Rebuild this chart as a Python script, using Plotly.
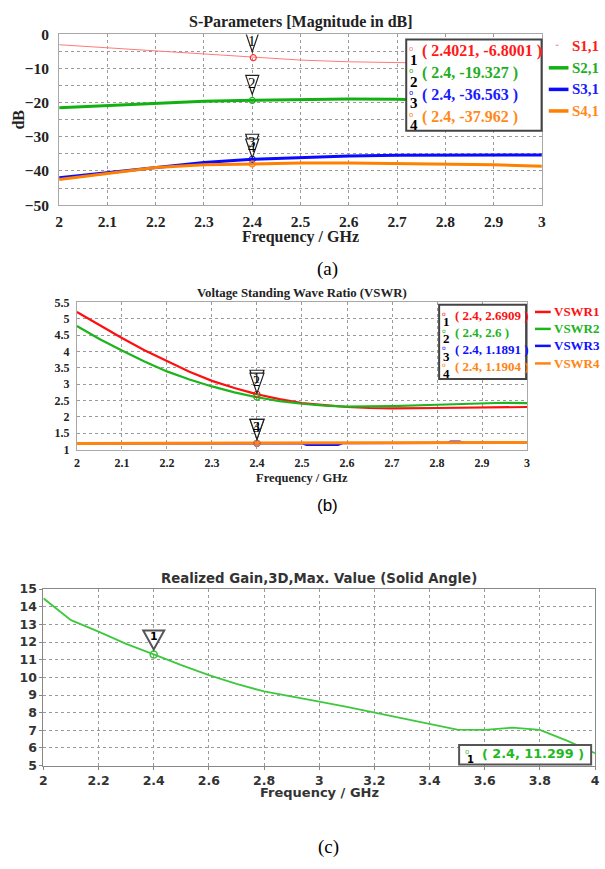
import plotly.graph_objects as go

W, H = 605, 869

# ---------------- (a) S-parameters ----------------
freq_a = [2.0, 2.1, 2.2, 2.3, 2.4, 2.5, 2.6, 2.7, 2.8, 2.9, 3.0]
s11 = [-3.0, -3.9, -4.8, -5.8, -6.8, -7.5, -8.0, -8.3, -8.5, -8.7, -8.8]
s21 = [-21.5, -20.8, -20.1, -19.6, -19.3, -19.0, -18.9, -19.0, -19.3, -19.8, -20.5]
s31 = [-42.0, -40.5, -38.9, -37.5, -36.6, -36.0, -35.6, -35.4, -35.3, -35.3, -35.3]
s41 = [-42.5, -40.8, -39.0, -38.2, -37.96, -37.7, -37.7, -37.8, -37.9, -38.2, -38.6]
names_a = ["S1,1", "S2,1", "S3,1", "S4,1"]
mk_a_x = [2.4021, 2.4, 2.4, 2.4]
mk_a_y = [-6.8001, -19.327, -36.563, -37.962]
ticks_a_y = [0, -10, -20, -30, -40, -50]

# ---------------- (b) VSWR ----------------
freq_b = [2.0, 2.05, 2.1, 2.15, 2.2, 2.25, 2.3, 2.35, 2.4, 2.45, 2.5, 2.55, 2.6,
          2.65, 2.7, 2.8, 2.9, 2.95, 3.0]
vswr1 = [5.21, 4.80, 4.41, 4.04, 3.70, 3.38, 3.10, 2.88, 2.69, 2.54, 2.42, 2.35, 2.30,
         2.27, 2.26, 2.27, 2.28, 2.29, 2.30]
vswr2 = [4.78, 4.38, 4.03, 3.69, 3.39, 3.14, 2.93, 2.75, 2.60, 2.48, 2.40, 2.34, 2.31,
         2.31, 2.33, 2.37, 2.41, 2.43, 2.42]
freq_b3 = [2.0, 2.2, 2.4, 2.5, 2.51, 2.58, 2.59, 2.7, 2.82, 2.83, 2.85, 2.86, 3.0]
vswr3 = [1.185, 1.187, 1.189, 1.19, 1.14, 1.14, 1.192, 1.197, 1.20, 1.245, 1.245, 1.205, 1.212]
freq_b4 = [2.0, 2.4, 2.6, 2.8, 3.0]
vswr4 = [1.185, 1.1904, 1.197, 1.205, 1.215]
names_b = ["VSWR1", "VSWR2", "VSWR3", "VSWR4"]
mk_b_x = [2.4, 2.4, 2.4, 2.4]
mk_b_y = [2.6909, 2.6, 1.1891, 1.1904]

# ---------------- (c) Realized gain ----------------
freq_c = [2.0, 2.1, 2.2, 2.3, 2.4, 2.5, 2.6, 2.7, 2.8, 2.9, 3.0,
          3.1, 3.2, 3.3, 3.4, 3.5, 3.6, 3.7, 3.8, 3.9, 4.0]
gain_c = [14.48, 13.24, 12.59, 11.9, 11.3, 10.69, 10.13, 9.63, 9.2, 8.89, 8.62,
          8.33, 8.0, 7.69, 7.35, 7.04, 7.02, 7.15, 7.02, 6.4, 5.7]
mk_c_x = [2.4]
mk_c_y = [11.299]

col_a = ["#ff7a7a", "#13b013", "#0a0aff", "#ff8000"]
txt_a = ["#ff1a1a", "#1fae1f", "#1a1aff", "#ff8a1a"]
col_b = ["#ff1010", "#1db41d", "#1010ff", "#ff8410"]
col_c = "#3ec83e"

SERIF = "Liberation Serif"
VERD = "DejaVu Sans"


def px(x):
    return x / W


def py(y):
    return 1 - y / H


fig = go.Figure()
shapes = []
annos = []

# ---- traces (a)
for ys, nm, c, w in zip([s11, s21, s31, s41], names_a, col_a, [1, 3, 3, 3]):
    fig.add_trace(go.Scatter(x=freq_a, y=ys, mode="lines", name=nm,
                             line=dict(color=c, width=w), xaxis="x", yaxis="y",
                             showlegend=False))
for i in range(4):
    fig.add_trace(go.Scatter(x=[mk_a_x[i]], y=[mk_a_y[i]], mode="markers",
                             marker=dict(symbol="circle-open", size=6,
                                         color=col_a[i] if i else "#ff3030",
                                         line=dict(width=1.2)),
                             xaxis="x", yaxis="y", showlegend=False))

# ---- traces (b)
for xs, ys, nm, c in zip([freq_b, freq_b, freq_b3, freq_b4], [vswr1, vswr2, vswr3, vswr4],
                         names_b, col_b):
    fig.add_trace(go.Scatter(x=xs, y=ys, mode="lines", name=nm,
                             line=dict(color=c, width=2.2 if nm != "VSWR4" else 3),
                             xaxis="x2", yaxis="y2", showlegend=False))
for i in range(4):
    fig.add_trace(go.Scatter(x=[mk_b_x[i]], y=[mk_b_y[i]], mode="markers",
                             marker=dict(symbol="circle-open", size=6, color=col_b[i],
                                         line=dict(width=1.2)),
                             xaxis="x2", yaxis="y2", showlegend=False))

# ---- traces (c)
fig.add_trace(go.Scatter(x=freq_c, y=gain_c, mode="lines", line=dict(color=col_c, width=1.8),
                         xaxis="x3", yaxis="y3", showlegend=False))
fig.add_trace(go.Scatter(x=mk_c_x, y=mk_c_y, mode="markers",
                         marker=dict(symbol="circle-open", size=7, color=col_c,
                                     line=dict(width=1.6)),
                         xaxis="x3", yaxis="y3", showlegend=False))


def add_tri(xr, yr, x, y, w, h, gap, lw, lc, num, font, nshift):
    shapes.append(dict(type="path", xref=xr, yref=yr, xsizemode="pixel", ysizemode="pixel",
                       xanchor=x, yanchor=y,
                       path=f"M {-w/2},{gap+h} L {w/2},{gap+h} L 0,{gap} Z",
                       fillcolor="white", line=dict(color=lc, width=lw), layer="above"))
    annos.append(dict(x=x, y=y, xref=xr, yref=yr, text=num, showarrow=False,
                      yshift=nshift, yanchor="middle", font=font))


# marker triangles
for i in range(4):
    add_tri("x", "y", mk_a_x[i] if i else 2.4, mk_a_y[i], 13, 19, 6, 1.2, "#222",
            str(i + 1), dict(family=SERIF, size=15, color="black"), 17)
for i in range(4):
    add_tri("x2", "y2", mk_b_x[i], mk_b_y[i], 14, 20, 4, 1.2, "#222",
            str(i + 1), dict(family=SERIF, size=14, color="black"), 16)
add_tri("x3", "y3", mk_c_x[0], mk_c_y[0], 21, 19, 5, 2, "#555",
        "1", dict(family=VERD, size=11, color="black", weight="bold"), 18)


def box(x0, y0, x1, y1, lw=2, lc="#444"):
    shapes.append(dict(type="rect", xref="paper", yref="paper",
                       x0=px(x0), x1=px(x1), y0=py(y1), y1=py(y0),
                       fillcolor="white", line=dict(color=lc, width=lw), layer="above"))


def text(x, y, t, font, xanchor="center", yanchor="middle", angle=0):
    annos.append(dict(x=px(x), y=py(y), xref="paper", yref="paper", text=t,
                      showarrow=False, xanchor=xanchor, yanchor=yanchor, font=font,
                      textangle=angle))


def fmt(v):
    return ("%.5g" % v)


# marker info box (a)
box(408.3, 31, 545.7, 124.3)
rows_a = [43.3, 65.5, 87.5, 109.8]
for i in range(4):
    yv = rows_a[i]
    text(413.3, yv - 2, "o", dict(family=VERD, size=7, color=col_a[i]))
    text(416.5, yv + 8.5, str(i + 1), dict(family=SERIF, size=15, color="black", weight="bold"))
    text(422.5, yv, f"( {fmt(mk_a_x[i])}, {fmt(mk_a_y[i])} )",
         dict(family=SERIF, size=16, color=txt_a[i], weight="bold"), xanchor="left")

# legend (a)
leg_a = [38, 60, 82, 104]
for i in range(4):
    if i == 0:
        shapes.append(dict(type="line", xref="paper", yref="paper", x0=px(560), x1=px(563),
                           y0=py(leg_a[i] - 1), y1=py(leg_a[i] - 1),
                           line=dict(color=col_a[0], width=1)))
    else:
        shapes.append(dict(type="line", xref="paper", yref="paper", x0=px(553), x1=px(573),
                           y0=py(leg_a[i]), y1=py(leg_a[i]),
                           line=dict(color=col_a[i], width=3.5)))
    text(574.5, leg_a[i], names_a[i], dict(family=SERIF, size=15, color=txt_a[i], weight="bold"),
         xanchor="left")

# marker info box (b)
box(441.7, 301.7, 530, 377.3)
rows_b = [312.3, 330, 347.5, 365]
for i in range(4):
    yv = rows_b[i]
    text(446.7, yv - 2, "o", dict(family=VERD, size=6, color=col_b[i]))
    text(449.3, yv + 6.5, str(i + 1), dict(family=SERIF, size=13, color="black", weight="bold"))
    text(455.5, yv, f"( {fmt(mk_b_x[i])}, {fmt(mk_b_y[i])} )",
         dict(family=SERIF, size=13, color=col_b[i], weight="bold"), xanchor="left")

# legend (b)
leg_b = [309, 326.3, 343.6, 361.5]
for i in range(4):
    shapes.append(dict(type="line", xref="paper", yref="paper", x0=px(539), x1=px(555),
                       y0=py(leg_b[i]), y1=py(leg_b[i]), line=dict(color=col_b[i], width=2.5)))
    text(556.5, leg_b[i], names_b[i], dict(family=SERIF, size=13, color=col_b[i], weight="bold"),
         xanchor="left")

# marker info box (c)
box(462, 750.7, 596, 770.5, lw=2, lc="#555")
text(470, 757.5, "o", dict(family=VERD, size=7, color=col_c))
text(473.7, 765, "1", dict(family=VERD, size=10, color="black", weight="bold"))
text(483, 759.8, f"( {fmt(mk_c_x[0])}, {fmt(mk_c_y[0])} )",
     dict(family=VERD, size=12.8, color="#22b822", weight="bold"), xanchor="left")

# titles and axis titles
text(301, 13, "S-Parameters [Magnitude in dB]", dict(family=SERIF, size=16, color="#222", weight="bold"))
text(301, 233, "Frequency / GHz", dict(family=SERIF, size=16, color="#222", weight="bold"))
text(15, 113, "dB", dict(family=SERIF, size=16, color="#222", weight="bold"), angle=-90)
text(302, 290, "Voltage Standing Wave Ratio (VSWR)", dict(family=SERIF, size=12.8, color="#222", weight="bold"))
text(302, 478, "Frequency / GHz", dict(family=SERIF, size=12.5, color="#222", weight="bold"))
text(320, 581, "Realized Gain,3D,Max. Value (Solid Angle)", dict(family=VERD, size=13.3, color="#333", weight="bold"))
text(320.5, 799, "Frequency / GHz", dict(family=VERD, size=13, color="#333", weight="bold"))

# sub-figure labels
text(328, 265, "(a)", dict(family=SERIF, size=19, color="black"))
text(328, 506, "(b)", dict(family="Liberation Sans", size=17, color="black"))
text(329, 855, "(c)", dict(family=SERIF, size=19, color="black"))

grid = dict(showgrid=True, gridcolor="#9a9a9a", griddash="dot", gridwidth=1,
            zeroline=False, showline=True, mirror=True)

fig.update_layout(
    width=W, height=H, margin=dict(l=0, r=0, t=0, b=0),
    paper_bgcolor="white", plot_bgcolor="white", showlegend=False,
    xaxis=dict(domain=[px(56), px(546)], range=[2, 3], dtick=0.1, tick0=2, anchor="y",
               linecolor="#a8a8a8", ticks="", ticklabelstandoff=2,
               tickfont=dict(family=SERIF, size=15.5, color="#222", weight="bold"), **grid),
    yaxis=dict(domain=[py(200), py(26)], range=[-50, 0], tickvals=ticks_a_y, anchor="x",
               linecolor="#a8a8a8", ticks="", ticklabelstandoff=6,
               minor=dict(dtick=5, showgrid=True, gridcolor="#9a9a9a", griddash="dot"),
               tickfont=dict(family=SERIF, size=15.5, color="#222", weight="bold"), **grid),
    xaxis2=dict(domain=[px(74), px(531)], range=[2, 3], dtick=0.1, tick0=2, anchor="y2",
                linecolor="#a8a8a8", ticks="", ticklabelstandoff=2,
                tickfont=dict(family=SERIF, size=12, color="#222", weight="bold"), **grid),
    yaxis2=dict(domain=[py(449.3), py(299.3)], range=[1, 5.5], dtick=0.5, tick0=1, anchor="x2",
                linecolor="#a8a8a8", ticks="", ticklabelstandoff=4,
                tickfont=dict(family=SERIF, size=12, color="#222", weight="bold"), **grid),
    xaxis3=dict(domain=[px(40), px(600)], range=[2, 4], dtick=0.2, tick0=2, anchor="y3",
                linecolor="#888", ticks="outside", ticklen=3, tickcolor="#888",
                ticklabelstandoff=0,
                tickfont=dict(family=VERD, size=12.5, color="#333", weight="bold"), **grid),
    yaxis3=dict(domain=[py(771.7), py(591.7)], range=[5, 15], dtick=1, tick0=5, anchor="x3",
                linecolor="#888", ticks="outside", ticklen=3, tickcolor="#888",
                tickfont=dict(family=VERD, size=12.5, color="#333", weight="bold"), **grid),
    shapes=shapes, annotations=annos,
)

fig.write_html("out.html", config={"displayModeBar": False},
               post_script="document.body.style.margin='0';document.body.style.overflow='hidden';")
